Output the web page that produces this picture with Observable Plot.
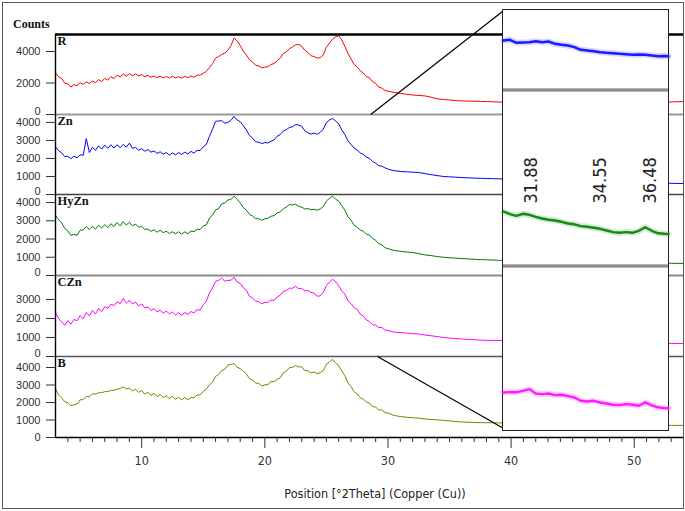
<!DOCTYPE html>
<html><head><meta charset="utf-8">
<script src="https://cdn.jsdelivr.net/npm/d3@7"></script>
<script src="https://cdn.jsdelivr.net/npm/@observablehq/plot@0.6"></script>
<style>
body{margin:0;background:#fff;}
#wrap{position:relative;width:685px;height:511px;overflow:hidden;background:#fff;}
#frame{position:absolute;left:2px;top:2px;width:682px;height:507px;box-sizing:border-box;border:1.5px solid #5a5a5a;pointer-events:none;}
#counts{position:absolute;left:13px;top:17px;font:bold 12px "Liberation Serif","Times New Roman",serif;color:#111;}
#xtitle{position:absolute;left:0;width:750px;top:486px;text-align:center;font:12.5px "Liberation Sans Narrow","Arial Narrow","DejaVu Sans Condensed",Arial,sans-serif;color:#222;}
#inset{position:absolute;top:9px;background:#fff;border:1px solid #222;}
#inset svg{display:block;}
.bar{height:2px;background:#8f8f8f;border-top:1px solid #b5b5b5;border-bottom:1px solid #b5b5b5;}
</style></head>
<body>
<div id="wrap">
  <div id="counts">Counts</div>
  <div id="xtitle">Position [°2Theta] (Copper (Cu))</div>
</div>
<script>
// ---------- data ----------
const xs = [
 3,3.25,3.5,3.75, 4,4.25,4.5,4.75, 5,5.25,5.5,5.75, 6,6.25,6.5,6.75, 7,7.25,7.5,7.75,
 8,8.25,8.5,8.75, 9,9.25,9.5,9.75, 10,10.25,10.5,10.75, 11,11.25,11.5,11.75, 12,12.25,12.5,12.75,
 13,13.25,13.5,13.75, 14,14.25,14.5,14.75, 15,15.25,15.5,15.75, 16,16.25,16.5,16.75, 17,17.25,17.5,17.75,
 18,18.25,18.5,18.75, 19,19.25,19.5,19.75, 20,20.25,20.5,20.75, 21,21.25,21.5,21.75, 22,22.25,22.5,22.75,
 23,23.25,23.5,23.75, 24,24.25,24.5,24.75, 25,25.25,25.5,25.75, 26,26.25,26.5,26.75, 27,27.25,27.5,27.75,
 28,28.25,28.5,28.75, 29,29.25,29.5,29.75, 30,
 30.5,31,31.5,32,32.5,33,33.5,34,34.5,35,35.5,36,36.5,37,37.5,38,38.5,39,39.5,
 40,41,42,43,44,45,46,47,48,49,50,51,52,53,54
];
const seriesR = [
 2650,2400,2300,1990, 1950,1740,1900,1830, 2020,1910,2070,1970, 2130,2020,2210,2100, 2290,2180,2410,2280,
 2500,2380,2570,2440, 2590,2460,2580,2450, 2530,2400,2490,2360, 2450,2330,2440,2320, 2420,2310,2430,2320,
 2410,2300,2430,2330, 2450,2360,2500,2510,
 2610,2740,2980,3230, 3580,3680,3810,3900, 4080,4380,4850,4680, 4380,4030,3780,3480, 3330,3130,3080,2960,
 3010,3030,3180,3230, 3410,3580,3880,3980, 4180,4300,4430,4440, 4330,4080,3930,3730, 3680,3580,3610,3780,
 4280,4530,4780,4930, 5000,4730,4330,3880, 3530,3180,3030,2780, 2630,2400,2330,2080, 1980,1730,1680,1530, 1480,
 1400,1350,1280,1240,1210,1180,1100,1000,950,920,880,860,850,840,830,820,810,790,780,
 780,770,760,760,750,750,740,740,730,730,720,720,760,800,820
];
const seriesZn = [
 2650,2430,2320,2100, 2120,1990,2120,2030, 2200,2180,3100,2330, 2620,2450,2700,2520, 2740,2560,2760,2580,
 2760,2600,2780,2620, 2850,2560,2620,2460, 2540,2400,2500,2350, 2420,2280,2370,2240, 2330,2190,2310,2200,
 2330,2220,2350,2250, 2390,2300,2450,2440,
 2650,2780,3230,3620, 4060,4080,4100,3960, 4000,4120,4330,4140, 4040,3820,3580,3280, 3130,2930,2900,2830,
 2880,2860,2960,3030, 3230,3330,3530,3600, 3720,3760,3880,3860, 3780,3530,3430,3350, 3410,3340,3450,3630,
 3990,4130,4220,4080, 3930,3580,3330,2980, 2780,2580,2470,2310, 2220,2080,2000,1830, 1740,1600,1570,1480, 1410,
 1320,1280,1260,1240,1220,1160,1100,1050,1000,980,960,940,925,910,900,890,880,870,865,
 860,840,820,800,780,760,740,720,700,690,680,670,650,620,610
];
const seriesHyZn = [
 3300,3060,2880,2580, 2450,2200,2250,2200, 2480,2500,2680,2520, 2700,2540,2760,2600, 2790,2620,2840,2680,
 2900,2720,2950,2760, 2920,2720,2820,2640, 2700,2520,2550,2420, 2510,2370,2480,2350, 2430,2300,2400,2280,
 2400,2270,2390,2290, 2440,2400,2540,2520,
 2720,2770,3140,3320, 3590,3670,3920,3970, 4140,4170,4350,4180, 3990,3720,3580,3350, 3260,3120,3110,3030,
 3110,3130,3250,3280, 3430,3480,3650,3760, 3890,3870,3910,3780, 3750,3640,3670,3600, 3630,3580,3650,3780,
 4080,4230,4350,4180, 4080,3830,3580,3230, 3030,2760,2650,2500, 2430,2260,2220,2030, 1930,1740,1680,1530, 1470,
 1370,1330,1290,1260,1200,1130,1090,1040,1000,970,950,930,910,890,870,860,850,830,820,
 810,800,790,780,770,760,750,740,730,720,710,700,690,670,660
];
const seriesCZn = [
 2330,2000,1820,1640, 1880,1700,1950,1880, 2150,1980,2320,2140, 2420,2240,2520,2360, 2620,2540,2750,2680,
 2870,2780,3050,2800, 2960,2760,2860,2660, 2760,2560,2610,2420, 2510,2350,2440,2280, 2390,2240,2340,2190,
 2310,2180,2310,2220, 2360,2300,2460,2450,
 2720,2910,3340,3610, 3950,4010,4120,3960, 4000,4010,4170,3920, 3840,3610,3480,3170, 3080,2920,2880,2770,
 2850,2850,2970,2950, 3130,3220,3430,3470, 3590,3590,3690,3570, 3580,3450,3470,3370, 3330,3170,3190,3370,
 3730,3920,4060,3930, 3730,3440,3280,2920, 2780,2570,2480,2220, 2130,1920,1840,1670, 1650,1520,1530,1390, 1370,
 1280,1260,1230,1200,1180,1130,1090,1050,1000,970,940,920,900,880,860,850,845,840,835,
 830,820,810,800,790,780,770,760,750,740,730,720,710,690,680
];
const seriesB = [
 2780,2440,2260,2040, 1990,1810,1870,1910, 2150,2170,2350,2330, 2500,2480,2560,2560, 2620,2640,2680,2700,
 2760,2800,2900,2780, 2820,2660,2760,2580, 2680,2480,2600,2400, 2520,2340,2460,2290, 2390,2230,2340,2190,
 2300,2150,2280,2160, 2290,2270,2420,2440,
 2640,2760,3010,3160, 3490,3610,3820,3910, 4140,4170,4230,4010, 3940,3790,3640,3360, 3300,3110,3090,2950,
 3010,3020,3190,3190, 3320,3420,3690,3800, 3990,4010,4110,4030, 4040,3820,3820,3690, 3740,3650,3710,3820,
 4190,4320,4470,4270, 4090,3800,3540,3120, 2920,2620,2490,2270, 2190,2020,1970,1770, 1740,1570,1580,1420, 1400,
 1260,1200,1160,1130,1110,1060,1030,1010,980,950,910,890,870,860,850,845,840,835,830,
 820,810,800,790,780,770,760,750,740,730,720,710,700,695,690
];
const panelNames = ["R", "Zn", "HyZn", "CZn", "B"];
const panelColors = ["#ff0000", "#0000ff", "#007a00", "#ff00ff", "#808000"];
const yTicksR = [0, 2000, 4000];
const yTicksFull = [0, 1000, 2000, 3000, 4000];
const yTicksCZn = [0, 1000, 2000, 3000];
const xMajorTicks = [10, 20, 30, 40, 50];
const xMinorTicks = [4,5,6,7,8,9,11,12,13,14,15,16,17,18,19,21,22,23,24,25,26,27,28,29,
  31,32,33,34,35,36,37,38,39,41,42,43,44,45,46,47,48,49,51,52,53];

// inset (zoomed region)
const insetXs = [30.8,31.05,31.3,31.55,31.8,32.05,32.3,32.55,32.8,33.05,33.3,33.55,33.8,34.05,
  34.3,34.55,34.8,35.05,35.3,35.55,35.8,36.05,36.3,36.55,36.8,37.05,37.2];
const insetZn = [1250,1264,1204,1210,1216,1236,1216,1230,1184,1164,1150,1116,1064,1050,1036,1016,
  1004,996,984,976,964,970,964,950,936,940,935];
const insetHyZn = [1280,1228,1194,1234,1214,1174,1140,1114,1100,1074,1040,1024,988,974,954,934,
  900,868,854,868,854,894,964,894,844,834,830];
const insetCZn = [1220,1228,1224,1254,1288,1200,1188,1200,1168,1174,1148,1120,1054,1040,1054,1020,
  1000,974,968,988,974,954,1024,964,924,908,905];
const peakLabels = [31.88, 34.55, 36.48];

// ---------- layout ----------
const wrap = document.getElementById("wrap");
const W = 685, ML = 55, MR = 2;
const xDomain = [3, 54];
const panelTops = [34, 114, 194, 275, 356, 437];
const yMax = [5080, 4440, 4440, 4260, 4630];
const seriesList = [seriesR, seriesZn, seriesHyZn, seriesCZn, seriesB];
const tickList = [yTicksR, yTicksFull, yTicksFull, yTicksCZn, yTicksFull];
const sepStroke = ["#9a9a9a", "#444", "#8a8a8a", "#555", "#000"];
const sepWidth = [2, 1.3, 2, 1.3, 1.4];
const insetSpan = [39.4, 52.75];   // main-axis extent covered by the inset box
const zoomFrom = [28.6, 29.15];    // where the connector lines start
const narrow = "'Liberation Sans Narrow','Arial Narrow','DejaVu Sans Condensed',Arial,sans-serif";

panelNames.forEach((name, i) => {
  const top = panelTops[i], h = panelTops[i + 1] - top;
  const first = i === 0, last = i === panelNames.length - 1;
  const mt = first ? 34 : 6, mb = last ? 74 : 6;
  const data = xs.map((x, j) => ({x, y: seriesList[i][j]}));
  const nonZero = tickList[i].filter(t => t !== 0);
  const marks = [
    Plot.line(data, {x: "x", y: "y", stroke: panelColors[i], strokeWidth: 1}),
    Plot.ruleY([0], {stroke: sepStroke[i], strokeWidth: sepWidth[i]}),
    Plot.ruleX([xDomain[0]], {stroke: "#000", strokeWidth: 1.4}),
    Plot.axisY(nonZero, {anchor: "left", tickSize: 9, tickPadding: 6, tickFormat: d => String(d), label: null}),
    Plot.axisY([0], {anchor: "left", tickSize: 9, tickFormat: () => "", label: null}),
    Plot.axisY([0], {anchor: "left", tickSize: 0, tickPadding: 15, dy: last ? 0 : -3,
      tickFormat: d => String(d), label: null}),
    Plot.text([name], {frameAnchor: "top-left", dx: 2, dy: 2, lineAnchor: "top", text: d => d,
      fontWeight: "bold", fontFamily: "'Liberation Serif','Times New Roman',serif", fontSize: 12.5, fill: "#111"})
  ];
  if (first) {
    marks.push(Plot.ruleY([yMax[0]], {stroke: "#000", strokeWidth: 2.6}));
    marks.push(Plot.link([0], {x1: () => zoomFrom[0], y1: () => 0, x2: () => insetSpan[0],
      y2: () => yMax[0] * (114 - 10) / 80, stroke: "#000", strokeWidth: 1.2}));
  }
  if (last) {
    marks.push(Plot.link([0], {x1: () => zoomFrom[1], y1: () => yMax[i], x2: () => insetSpan[0],
      y2: () => 514, stroke: "#000", strokeWidth: 1.2}));
    marks.push(Plot.axisX(xMajorTicks, {anchor: "bottom", tickSize: 11, tickPadding: 8,
      tickFormat: d => String(d), label: null, fontSize: 12.5, fontFamily: narrow}));
    marks.push(Plot.axisX(xMinorTicks, {anchor: "bottom", tickSize: 5, tickFormat: () => "", label: null}));
  }
  const svg = Plot.plot({
    width: W, height: mt + h + mb,
    marginLeft: ML, marginRight: MR, marginTop: mt, marginBottom: mb,
    x: {domain: xDomain, axis: last ? undefined : null},
    y: {domain: [0, yMax[i]]},
    style: {background: "transparent", overflow: "visible", color: "#30303c",
            fontFamily: "'Liberation Sans',Arial,sans-serif", fontSize: "11px"},
    marks
  });
  svg.style.position = "absolute";
  svg.style.left = "0px";
  svg.style.top = (top - mt) + "px";
  wrap.appendChild(svg);
});

// ---------- inset ----------
const xMain = d3.scaleLinear(xDomain, [ML, W - MR]);
const insetLeft = Math.round(xMain(insetSpan[0]));
const insetW = Math.round(xMain(insetSpan[1])) - insetLeft;
const inset = document.createElement("div");
inset.id = "inset";
inset.style.left = (insetLeft - 1) + "px";
inset.style.width = insetW + "px";
wrap.appendChild(inset);
const insetDomain = [30.8, 37.2];

function insetPlot(values, color, domain, h, extra = []) {
  const data = insetXs.map((x, j) => ({x, y: values[j]}));
  return Plot.plot({
    width: insetW, height: h, margin: 0,
    x: {domain: insetDomain, axis: null},
    y: {domain, axis: null},
    style: {background: "transparent", overflow: "visible"},
    marks: [
      Plot.line(data, {x: "x", y: "y", stroke: color, strokeWidth: 6, strokeOpacity: 0.18}),
      Plot.line(data, {x: "x", y: "y", stroke: color, strokeWidth: 2.4}),
      ...extra
    ]
  });
}
function bar() { const b = document.createElement("div"); b.className = "bar"; return b; }

inset.appendChild(insetPlot(insetZn, "#1a1aff", [290, 1850], 78));
inset.appendChild(bar());
inset.appendChild(insetPlot(insetHyZn, "#138a13", [220, 3660], 172, [
  Plot.text(peakLabels, {x: d => d, y: () => 1440, text: d => d3.format(".2f")(d), rotate: -90,
    textAnchor: "start", fontSize: 18, fontFamily: narrow, fill: "#222"})
]));
inset.appendChild(bar());
inset.appendChild(insetPlot(insetCZn, "#ff1aff", [460, 3700], 162));

const frame = document.createElement("div");
frame.id = "frame";
wrap.appendChild(frame);
</script>
</body></html>
